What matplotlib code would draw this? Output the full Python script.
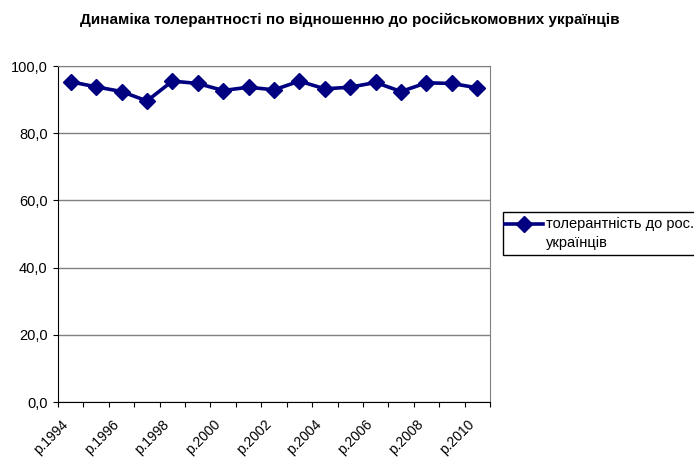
import matplotlib.pyplot as plt
import matplotlib.transforms as mtransforms
import numpy as np
from matplotlib.lines import Line2D
from matplotlib.patches import Rectangle

plt.rcParams['font.family'] = ['Liberation Sans', 'DejaVu Sans']

roky = list(range(1994, 2011))
tolerantnist = [95.3, 93.8, 92.4, 89.6, 95.5, 94.8, 92.7, 93.7, 92.9, 95.5,
                93.2, 93.7, 95.1, 92.4, 95.0, 94.8, 93.5]
pidpysy = ['р.%d' % r for r in roky]
y_tiky = np.arange(0, 101, 20)

W, H = 694, 461
fig = plt.figure(figsize=(W/100, H/100), dpi=100)
ax = fig.add_axes([58/W, 1-402/H, (490-58)/W, (402-66)/H])

x = np.arange(len(roky))
kolir = '#000080'
ax.plot(x, tolerantnist, color=kolir, lw=2.6, marker='D', ms=8.5)

ax.set_xlim(-0.5, len(roky)-0.5)
ax.set_ylim(0, 100)
ax.set_yticks(y_tiky)
ax.set_yticklabels([('%.1f' % v).replace('.', ',') for v in y_tiky], fontsize=10.5)
ax.grid(axis='y', color='#808080', lw=1)
ax.set_axisbelow(True)

# ticks between categories, labels on every other category
ax.set_xticks(np.arange(-0.5, len(roky)))
ax.set_xticklabels([])
ax.set_xticks(x[::2], minor=True)
ax.set_xticklabels(pidpysy[::2], minor=True, rotation=45, ha='right', va='top',
                   rotation_mode='anchor', fontsize=10)
ax.tick_params(axis='x', which='minor', length=0, pad=8)
ax.tick_params(axis='x', which='major', length=3.5, direction='out', color='black')
ax.tick_params(axis='y', length=3.5, direction='out', pad=4)
zsuv = mtransforms.ScaledTranslation(-10/100, -4/100, fig.dpi_scale_trans)
for lbl in ax.get_xticklabels(minor=True):
    lbl.set_transform(lbl.get_transform() + zsuv)

for s in ['top', 'right']:
    ax.spines[s].set_color('#808080')
for s in ['left', 'bottom']:
    ax.spines[s].set_color('black')

fig.text(350/W, 1-20/H, 'Динаміка толерантності по відношенню до російськомовних українців',
         ha='center', va='center', fontsize=11, fontweight='bold')

# легенда
fig.patches.append(Rectangle((503/W, 1-255/H), 220/W, 43/H, transform=fig.transFigure,
                             facecolor='white', edgecolor='black', lw=1, clip_on=False))
fig.lines.append(Line2D([505/W, 543/W], [1-224/H, 1-224/H], transform=fig.transFigure,
                        color=kolir, lw=2.6))
fig.lines.append(Line2D([524/W], [1-224/H], transform=fig.transFigure, color=kolir,
                        marker='D', ms=8.5, lw=0))
fig.text(546/W, 1-224/H, 'толерантність до рос.', ha='left', va='center', fontsize=10.5)
fig.text(546/W, 1-243/H, 'українців', ha='left', va='center', fontsize=10.5)

fig.savefig('out.png', dpi=100)
